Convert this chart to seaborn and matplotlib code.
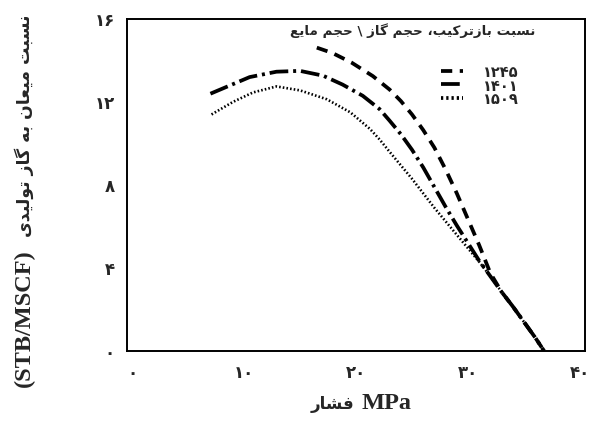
import matplotlib
matplotlib.use("Agg")
import matplotlib.pyplot as plt
import seaborn as sns
import pandas as pd

# ---------------- data ----------------
series_names = ["۱۲۴۵", "۱۴۰۱", "۱۵۰۹"]

x_1245 = [16.5, 17.9, 19.6, 21.5, 23.0, 24.0, 25.0, 26.0, 27.0, 28.0, 29.0, 30.0, 31.0, 32.0, 33.0, 34.0, 35.0, 36.0, 36.8]
y_1245 = [14.62, 14.36, 13.9, 13.25, 12.6, 12.05, 11.4, 10.65, 9.8, 8.75, 7.6, 6.35, 5.1, 3.75, 2.85, 2.15, 1.4, 0.65, 0.0]

x_1401 = [7.0, 8.75, 10.5, 12.9, 15.0, 17.05, 18.8, 20.6, 22.1, 23.0, 24.0, 25.0, 26.0, 27.0, 28.0, 29.0, 30.0, 31.0, 32.0, 33.0, 34.0, 35.0, 36.0, 36.8]
y_1401 = [12.4, 12.8, 13.2, 13.46, 13.5, 13.27, 12.84, 12.3, 11.66, 11.1, 10.45, 9.7, 8.85, 7.9, 6.95, 6.05, 5.2, 4.35, 3.6, 2.85, 2.15, 1.4, 0.65, 0.0]

x_1509 = [7.1, 9.0, 10.8, 12.9, 15.0, 17.4, 19.5, 21.25, 22.1, 23.0, 24.0, 25.0, 26.0, 27.0, 28.0, 29.0, 30.0, 31.0, 32.0, 33.0, 34.0, 35.0, 36.0, 36.8]
y_1509 = [11.4, 12.0, 12.46, 12.75, 12.56, 12.13, 11.5, 10.7, 10.2, 9.6, 8.95, 8.3, 7.6, 6.9, 6.25, 5.6, 4.95, 4.3, 3.6, 2.85, 2.15, 1.4, 0.65, 0.0]

x_ticks = [0, 10, 20, 30, 40]
x_tick_labels = ["۰", "۱۰", "۲۰", "۳۰", "۴۰"]
y_ticks = [0, 4, 8, 12, 16]
y_tick_labels = ["۰", "۴", "۸", "۱۲", "۱۶"]

y_label_fa = "نسبت میعان به گاز تولیدی"
y_label_en = "(STB/MSCF)"
x_label_fa = "فشار"
x_label_en = "MPa"
legend_title_fa = "نسبت بازترکیب، حجم گاز \\ حجم مایع"

# ---------------- minimal Persian shaping ----------------
FORMS = {
    '\u0627': ('\uFE8D', '\uFE8E', None, None),
    '\u0628': ('\uFE8F', '\uFE90', '\uFE91', '\uFE92'),
    '\u062A': ('\uFE95', '\uFE96', '\uFE97', '\uFE98'),
    '\u062C': ('\uFE9D', '\uFE9E', '\uFE9F', '\uFEA0'),
    '\u062D': ('\uFEA1', '\uFEA2', '\uFEA3', '\uFEA4'),
    '\u062F': ('\uFEA9', '\uFEAA', None, None),
    '\u0631': ('\uFEAD', '\uFEAE', None, None),
    '\u0632': ('\uFEAF', '\uFEB0', None, None),
    '\u0633': ('\uFEB1', '\uFEB2', '\uFEB3', '\uFEB4'),
    '\u0634': ('\uFEB5', '\uFEB6', '\uFEB7', '\uFEB8'),
    '\u0639': ('\uFEC9', '\uFECA', '\uFECB', '\uFECC'),
    '\u0641': ('\uFED1', '\uFED2', '\uFED3', '\uFED4'),
    '\u06A9': ('\uFB8E', '\uFB8F', '\uFB90', '\uFB91'),
    '\u06AF': ('\uFB92', '\uFB93', '\uFB94', '\uFB95'),
    '\u0644': ('\uFEDD', '\uFEDE', '\uFEDF', '\uFEE0'),
    '\u0645': ('\uFEE1', '\uFEE2', '\uFEE3', '\uFEE4'),
    '\u0646': ('\uFEE5', '\uFEE6', '\uFEE7', '\uFEE8'),
    '\u0647': ('\uFEE9', '\uFEEA', '\uFEEB', '\uFEEC'),
    '\u0648': ('\uFEED', '\uFEEE', None, None),
    '\u06CC': ('\uFBFC', '\uFBFD', '\uFBFE', '\uFBFF'),
}


def shape_rtl(text):
    out = []
    n = len(text)
    for i, ch in enumerate(text):
        if ch not in FORMS:
            out.append(ch)
            continue
        prev = text[i - 1] if i > 0 else ''
        nxt = text[i + 1] if i < n - 1 else ''
        join_prev = prev in FORMS and FORMS[prev][2] is not None
        join_next = nxt in FORMS and FORMS[ch][2] is not None
        iso, fin, ini, med = FORMS[ch]
        if join_prev and join_next:
            out.append(med)
        elif join_prev:
            out.append(fin)
        elif join_next:
            out.append(ini)
        else:
            out.append(iso)
    return ''.join(out)[::-1]


# ---------------- table for seaborn ----------------
frames = []
for name, xs, ys in zip(series_names, [x_1245, x_1401, x_1509], [y_1245, y_1401, y_1509]):
    frames.append(pd.DataFrame({"x": xs, "y": ys, "s": name}))
df = pd.concat(frames, ignore_index=True)

sns.set_theme(style="white")
plt.rcParams['font.family'] = ['Liberation Serif', 'DejaVu Sans']
plt.rcParams['font.weight'] = 'bold'

fig = plt.figure(figsize=(5.98, 4.27), dpi=100)
ax = fig.add_axes([127 / 598, 1 - 352 / 427, 458 / 598, 332 / 427])

dash_map = {"۱۲۴۵": (3, 2.0), "۱۴۰۱": (5, 1.3, 0.8, 1.3), "۱۵۰۹": (0.6, 0.8)}
sns.lineplot(data=df, x="x", y="y", hue="s", style="s", sort=False,
             palette={k: "black" for k in series_names}, dashes=dash_map,
             ax=ax, legend=True, estimator=None)
for line in ax.lines:
    line.set_linewidth(2.7)
ax.lines[2].set_linewidth(1.9)

ax.set_xlim(-0.45, 40.45)
ax.set_ylim(0, 15.75)
ax.set_xticks(x_ticks)
ax.set_xticklabels(x_tick_labels, fontsize=12, fontweight='bold')
ax.set_yticks(y_ticks)
ax.set_yticklabels(y_tick_labels, fontsize=12, fontweight='bold')
ax.tick_params(axis='both', length=0)
ax.tick_params(axis='x', pad=10)
ax.tick_params(axis='y', pad=9)
for sp in ax.spines.values():
    sp.set_color("black")
    sp.set_linewidth(1.4)
ax.grid(False)
ax.set_xlabel("")
ax.set_ylabel("")

# axis titles: Latin part in a serif bold, Persian part in DejaVu Sans bold
fig.text(24 / 598, 1 - 318 / 427, y_label_en, rotation=90, ha='center', va='center',
         fontsize=17.5, fontweight='bold', family=['Liberation Serif'])
fig.text(24 / 598, 1 - 126 / 427, shape_rtl(y_label_fa), rotation=90, ha='center', va='center',
         fontsize=12.4, fontweight='bold', family=['DejaVu Sans'])
fig.text(387 / 598, 1 - 409 / 427, x_label_en, ha='center', va='baseline',
         fontsize=17.5, fontweight='bold', family=['Liberation Serif'])
fig.text(333 / 598, 1 - 409 / 427, shape_rtl(x_label_fa), ha='center', va='baseline',
         fontsize=12, fontweight='bold', family=['DejaVu Sans'])

handles, labels = ax.get_legend_handles_labels()
leg = ax.legend(handles, labels, loc='upper left', bbox_to_anchor=(428 / 598, 1 - 54 / 427),
                bbox_transform=fig.transFigure, frameon=False, handlelength=1.5,
                handletextpad=1.4, labelspacing=0.0, fontsize=10.5)
for t in leg.get_texts():
    t.set_fontweight('bold')

fig.text(413 / 598, 1 - 31 / 427, shape_rtl(legend_title_fa), ha='center', va='center',
         fontsize=9.7, fontweight='bold', family=['DejaVu Sans'])

fig.savefig("out.png", dpi=100)
